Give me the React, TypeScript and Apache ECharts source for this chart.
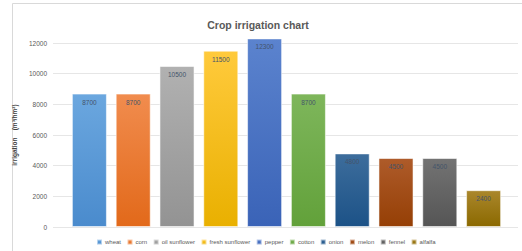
import React, { useEffect, useRef } from "react";
import * as echarts from "echarts";

const categories = ["wheat", "corn", "oil sunflower", "fresh sunflower", "pepper", "cotton", "onion", "melon", "fennel", "alfalfa"];
const values = [8700, 8700, 10500, 11500, 12300, 8700, 4800, 4500, 4500, 2400];
const topColors = ["#6ba7df", "#f18c4e", "#b1b1b1", "#ffca3c", "#5b83ce", "#7eb65b", "#3d6d9c", "#ae5b2a", "#737373", "#aa872c"];
const bottomColors = ["#4a8bcd", "#e2691a", "#939393", "#e9b000", "#3a63b7", "#62a13a", "#1c5287", "#953f05", "#555555", "#8b6900"];
const yTicks = [0, 2000, 4000, 6000, 8000, 10000, 12000];

export default function App() {
  const ref = useRef<HTMLDivElement>(null);
  useEffect(() => {
    const chart = echarts.init(ref.current!, null, { renderer: "svg" });
    const font = "Liberation Sans";
    const series: any[] = categories.map((name, i) => ({
      name,
      type: "bar",
      stack: "all",
      xAxisIndex: 1,
      yAxisIndex: 1,
      barWidth: "80%",
      clip: false,
      data: categories.map((_, j) => (j === i ? values[j] : null)),
      itemStyle: {
        color: new echarts.graphic.LinearGradient(0, 0, 0, 1, [
          { offset: 0, color: topColors[i] },
          { offset: 1, color: bottomColors[i] },
        ]),
        borderColor: "rgba(255,255,255,0.55)",
        borderWidth: 1,
      },
      label: {
        show: true,
        position: "insideTop",
        distance: 5,
        fontSize: 6.5,
        fontFamily: font,
        color: "#44546a",
      },
    }));
    chart.setOption({
      animation: false,
      backgroundColor: "#ffffff",
      title: {
        text: "Crop irrigation chart",
        left: 253,
        textAlign: "center",
        top: 14,
        textStyle: { fontSize: 10.5, fontWeight: "bold", color: "#595959", fontFamily: font },
      },
      graphic: [
        {
          type: "rect",
          shape: { x: 12.5, y: 3.5, width: 520, height: 260 },
          style: { fill: "none", stroke: "#d9d9d9", lineWidth: 1 },
          silent: true,
        },
      ],
      legend: {
        data: categories,
        bottom: 5.5,
        left: 96,
        padding: 0,
        itemWidth: 5,
        itemHeight: 5,
        itemGap: 5.5,
        icon: "rect",
        textStyle: { fontSize: 6, color: "#595959", fontFamily: font, padding: [0, 0, 0, -2] },
      },
      grid: [
        { left: 53, right: 4, top: 43, bottom: 24 },
        { left: 67.5, right: 16.5, top: 43, bottom: 24 },
      ],
      xAxis: [
        { type: "category", gridIndex: 0, data: categories, show: false },
        {
          type: "category",
          gridIndex: 1,
          data: categories,
          axisLine: { show: false },
          axisTick: { show: false },
          axisLabel: { show: false },
        },
      ],
      yAxis: [
        {
          type: "value",
          gridIndex: 0,
          min: 0,
          max: yTicks[yTicks.length - 1],
          interval: 2000,
          axisLine: { show: false },
          axisTick: { show: false },
          splitLine: { lineStyle: { color: "#e6e6e6", width: 1 } },
          axisLabel: { fontSize: 6.5, color: "#595959", fontFamily: font, margin: 6, formatter: (v: number) => String(v) },
          name: "irrigation    (m³/hm²)",
          nameLocation: "middle",
          nameGap: 26,
          nameTextStyle: { fontSize: 6.5, color: "#404040", fontFamily: font, fontWeight: "bold" },
        },
        {
          type: "value",
          gridIndex: 1,
          min: 0,
          max: yTicks[yTicks.length - 1],
          interval: 2000,
          show: false,
          splitLine: { show: false },
        },
      ],
      series,
    });
    return () => chart.dispose();
  }, []);
  return (
    <div
      ref={ref}
      style={{ position: "fixed", left: 0, top: 0, width: 522, height: 251 }}
    />
  );
}
